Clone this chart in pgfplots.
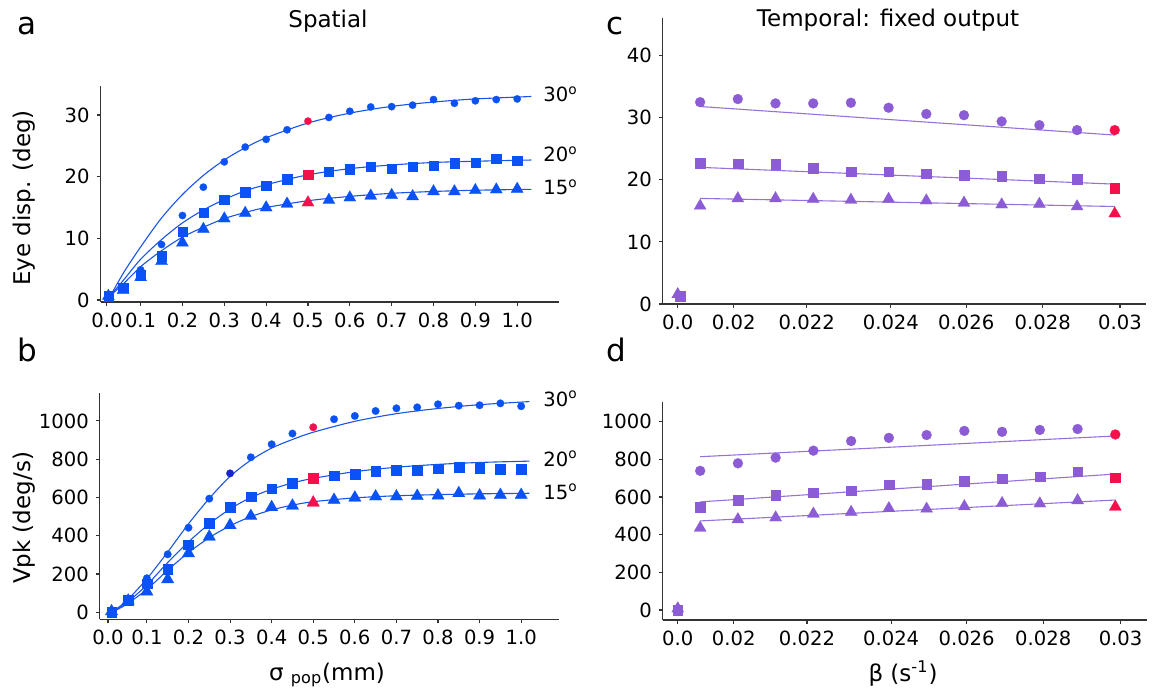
\documentclass[border=0pt]{standalone}
\usepackage{fontspec}
\setmainfont{DejaVu Sans}
\usepackage{pgfplots}
\pgfplotsset{compat=1.18}

\definecolor{mblue}{RGB}{10,82,245}
\definecolor{lblue}{RGB}{25,85,230}
\definecolor{dblue}{RGB}{25,35,210}
\definecolor{mpurp}{RGB}{140,92,214}
\definecolor{lpurp}{RGB}{150,112,222}
\definecolor{mred}{RGB}{245,15,75}

\newcommand\tk{\fontsize{9.8}{11}\selectfont}
\newcommand\lb{\fontsize{11.5}{13}\selectfont}
\newcommand\pl{\fontsize{15.5}{17}\selectfont}

\pgfplotsset{
  panel/.style={
    scale only axis, anchor=south west,
    axis lines=left,
    axis line style={-, line width=0.55pt, black!80},
    tick style={line width=0.55pt, black!80},
    major tick length=2pt, tick align=outside,
    ticklabel style={font=\tk},
    /pgf/number format/assume math mode=true,
    /pgf/number format/1000 sep={},
    scaled ticks=false,
    enlargelimits=false, clip=false,
  },
  fit/.style={no marks, line width=0.55pt, #1},
  mk/.style n args={3}{only marks, color=#3, mark=#1, mark size=#2, mark options={solid, line width=0.1pt, fill=#3, draw=#3}},
}

\begin{document}
\begin{tikzpicture}
\useasboundingbox (0,0) rectangle (582.5pt,345.5pt);

% ---------- a: spatial, eye displacement
\begin{axis}[panel, at={(50.3pt,194.5pt)}, width=229pt, height=108pt,
  xmin=0.0044, xmax=1.099, ymin=-0.32, ymax=34.7,
  xtick={0.0195,0.1,0.2,0.3,0.4,0.5,0.6,0.7,0.8,0.9,1.0},
  xticklabels={0.0,0.1,0.2,0.3,0.4,0.5,0.6,0.7,0.8,0.9,1.0},
  ytick={0,10,20,30}]
\addplot[fit=lblue, smooth] coordinates {(0.029,0.8)(0.06,4.5)(0.1,8.6)(0.15,13.3)(0.2,17.1)(0.25,20.2)(0.3,22.7)(0.35,24.7)(0.4,26.3)(0.5,28.7)(0.6,30.3)(0.7,31.4)(0.8,32.1)(0.9,32.6)(1.034,33.0)};
\addplot[fit=lblue, smooth] coordinates {(0.029,0.8)(0.06,3.3)(0.1,6.6)(0.15,9.8)(0.2,12.5)(0.25,14.6)(0.3,16.3)(0.35,17.7)(0.4,18.7)(0.5,20.3)(0.6,21.3)(0.7,21.9)(0.8,22.3)(0.9,22.5)(1.034,22.7)};
\addplot[fit=lblue, smooth] coordinates {(0.029,0.8)(0.06,2.7)(0.1,5.4)(0.15,8.0)(0.2,10.2)(0.25,11.8)(0.3,13.2)(0.35,14.2)(0.4,15.0)(0.5,16.1)(0.6,16.8)(0.7,17.3)(0.8,17.6)(0.9,17.8)(1.034,17.95)};
% 30 deg
\addplot[mk={*}{1.85pt}{mblue}] coordinates {(0.023,0.7)(0.058,2.0)(0.1,4.9)(0.15,9.0)(0.2,13.7)(0.25,18.3)(0.3,22.4)(0.35,24.8)(0.4,26.05)(0.45,27.6)(0.55,29.6)(0.6,30.6)(0.65,31.3)(0.7,31.35)(0.75,31.6)(0.8,32.5)(0.85,31.9)(0.9,32.3)(0.95,32.5)(1.0,32.6)};
\addplot[mk={*}{1.85pt}{mred}] coordinates {(0.5,29.0)};
% 20 deg
\addplot[mk={square*}{2.35pt}{mblue}] coordinates {(0.023,0.65)(0.058,2.05)(0.1,4.05)(0.15,7.1)(0.2,11.1)(0.25,14.2)(0.3,16.3)(0.35,17.5)(0.4,18.6)(0.45,19.6)(0.55,20.8)(0.6,21.2)(0.65,21.6)(0.7,21.35)(0.75,21.6)(0.8,21.8)(0.85,22.2)(0.9,22.3)(0.95,22.9)(1.0,22.6)};
\addplot[mk={square*}{2.35pt}{mred}] coordinates {(0.5,20.3)};
% 15 deg
\addplot[mk={triangle*}{3.5pt}{mblue}] coordinates {(0.023,0.65)(0.058,1.6)(0.1,3.7)(0.15,6.3)(0.2,9.3)(0.25,11.5)(0.3,13.2)(0.35,14.1)(0.4,15.0)(0.45,15.6)(0.55,16.2)(0.6,16.6)(0.65,16.9)(0.7,17.0)(0.75,16.8)(0.8,17.6)(0.85,17.6)(0.9,17.8)(0.95,17.9)(1.0,18.0)};
\addplot[mk={triangle*}{3.5pt}{mred}] coordinates {(0.5,15.8)};
\end{axis}

% ---------- b: spatial, peak velocity
\begin{axis}[panel, at={(49.95pt,35.85pt)}, width=229.35pt, height=113.15pt,
  xmin=-0.013, xmax=1.09, ymin=-36.6, ymax=1146,
  xtick={0.0065,0.1,0.2,0.3,0.4,0.5,0.6,0.7,0.8,0.9,1.0},
  xticklabels={0.0,0.1,0.2,0.3,0.4,0.5,0.6,0.7,0.8,0.9,1.0},
  ytick={0,200,400,600,800,1000}]
\addplot[fit=lblue, smooth] coordinates {(0.018,5)(0.05,58)(0.1,175)(0.15,315)(0.2,462)(0.25,595)(0.3,710)(0.35,795)(0.4,858)(0.45,903)(0.5,941)(0.6,998)(0.7,1038)(0.8,1065)(0.9,1085)(1.02,1101)};
\addplot[fit=lblue, smooth] coordinates {(0.018,3)(0.05,47)(0.1,143)(0.15,260)(0.2,368)(0.25,462)(0.3,540)(0.35,600)(0.4,643)(0.45,676)(0.5,700)(0.6,735)(0.7,758)(0.8,773)(0.9,783)(1.02,790)};
\addplot[fit=lblue, smooth] coordinates {(0.018,3)(0.05,40)(0.1,120)(0.15,220)(0.2,312)(0.25,390)(0.3,452)(0.35,500)(0.4,535)(0.45,560)(0.5,578)(0.6,598)(0.7,609)(0.8,615)(0.9,619)(1.02,622)};
% 30 deg
\addplot[mk={*}{1.9pt}{mblue}] coordinates {(0.015,5)(0.055,60)(0.1,178)(0.15,303)(0.2,442)(0.25,594)(0.35,810)(0.4,878)(0.45,934)(0.55,1009)(0.6,1026)(0.65,1052)(0.7,1066)(0.75,1071)(0.8,1087)(0.85,1080)(0.9,1082)(0.95,1092)(1.0,1077)};
\addplot[mk={*}{1.9pt}{dblue}] coordinates {(0.3,726)};
\addplot[mk={*}{1.9pt}{mred}] coordinates {(0.5,967)};
% 20 deg
\addplot[mk={square*}{2.45pt}{mblue}] coordinates {(0.015,0)(0.055,64)(0.1,150)(0.15,226)(0.2,354)(0.25,465)(0.3,549)(0.35,605)(0.4,646)(0.45,674)(0.55,714)(0.6,723)(0.65,739)(0.7,744)(0.75,744)(0.8,751)(0.85,758)(0.9,753)(0.95,749)(1.0,747)};
\addplot[mk={square*}{2.45pt}{mred}] coordinates {(0.5,702)};
% 15 deg
\addplot[mk={triangle*}{3.6pt}{mblue}] coordinates {(0.015,5)(0.055,61)(0.1,108)(0.15,172)(0.2,308)(0.25,395)(0.3,455)(0.35,503)(0.4,549)(0.45,557)(0.55,587)(0.6,599)(0.65,605)(0.7,605)(0.75,608)(0.8,610)(0.85,622)(0.9,610)(0.95,613)(1.0,613)};
\addplot[mk={triangle*}{3.6pt}{mred}] coordinates {(0.5,573)};
\end{axis}

% ---------- c: temporal, eye displacement
\begin{axis}[panel, at={(331.4pt,193.5pt)}, width=241.8pt, height=142.85pt,
  xmin=0.01801, xmax=0.03084, ymin=0, ymax=46,
  xtick={0.018406,0.01989,0.02183,0.02406,0.02606,0.02809,0.03014},
  xticklabels={0.0,0.02,0.022,0.024,0.026,0.028,0.03},
  ytick={0,10,20,30,40}]
\addplot[fit=lpurp] coordinates {(0.019,31.8)(0.030,27.2)};
\addplot[fit=lpurp] coordinates {(0.019,22.0)(0.030,19.3)};
\addplot[fit=lpurp] coordinates {(0.019,17.0)(0.030,15.7)};
\addplot[mk={*}{2.5pt}{mpurp}] coordinates {(0.019,32.5)(0.020,33.0)(0.021,32.3)(0.022,32.3)(0.023,32.4)(0.024,31.6)(0.025,30.6)(0.026,30.4)(0.027,29.4)(0.028,28.8)(0.029,28.0)};
\addplot[mk={*}{2.5pt}{mred}] coordinates {(0.030,28.0)};
\addplot[mk={square*}{2.4pt}{mpurp}] coordinates {(0.019,22.7)(0.020,22.6)(0.021,22.55)(0.022,21.85)(0.023,21.3)(0.024,21.3)(0.025,21.0)(0.026,20.8)(0.027,20.6)(0.028,20.2)(0.029,20.1)};
\addplot[mk={square*}{2.4pt}{mred}] coordinates {(0.030,18.7)};
\addplot[mk={triangle*}{3.5pt}{mpurp}] coordinates {(0.019,15.8)(0.020,17.0)(0.021,17.0)(0.022,16.9)(0.023,16.75)(0.024,16.9)(0.025,16.65)(0.026,16.3)(0.027,16.0)(0.028,16.1)(0.029,15.7)};
\addplot[mk={triangle*}{3.5pt}{mred}] coordinates {(0.030,14.55)};
% beta = 0, drawn at the broken-axis position of the 0.0 tick
\addplot[mk={triangle*}{3.5pt}{mpurp}, x filter/.expression={x+0.018406}] coordinates {(0,1.55)};
\addplot[mk={square*}{2.4pt}{mpurp}, x filter/.expression={x+0.018406}] coordinates {(0.00006,1.3)};
\end{axis}

% ---------- d: temporal, peak velocity
\begin{axis}[panel, at={(331.4pt,35.5pt)}, width=242.1pt, height=109.15pt,
  xmin=0.01801, xmax=0.03084, ymin=-53, ymax=1106,
  xtick={0.018406,0.01989,0.02183,0.02406,0.02606,0.02809,0.03014},
  xticklabels={0.0,0.02,0.022,0.024,0.026,0.028,0.03},
  ytick={0,200,400,600,800,1000}]
\addplot[fit=lpurp] coordinates {(0.019,814)(0.030,924)};
\addplot[fit=lpurp] coordinates {(0.019,574)(0.030,722)};
\addplot[fit=lpurp] coordinates {(0.019,473)(0.030,584)};
\addplot[mk={*}{2.5pt}{mpurp}] coordinates {(0.019,739)(0.020,779)(0.021,809)(0.022,846)(0.023,897)(0.024,914)(0.025,929)(0.026,951)(0.027,946)(0.028,956)(0.029,961)};
\addplot[mk={*}{2.5pt}{mred}] coordinates {(0.030,932)};
\addplot[mk={square*}{2.4pt}{mpurp}] coordinates {(0.019,548)(0.020,585)(0.021,611)(0.022,624)(0.023,633)(0.024,665)(0.025,668)(0.026,683)(0.027,698)(0.028,708)(0.029,735)};
\addplot[mk={square*}{2.4pt}{mred}] coordinates {(0.030,702)};
\addplot[mk={triangle*}{3.5pt}{mpurp}] coordinates {(0.019,436)(0.020,481)(0.021,491)(0.022,511)(0.023,520)(0.024,540)(0.025,537)(0.026,550)(0.027,567)(0.028,565)(0.029,582)};
\addplot[mk={triangle*}{3.5pt}{mred}] coordinates {(0.030,548)};
\addplot[mk={triangle*}{3.5pt}{mpurp}, x filter/.expression={x+0.018406}] coordinates {(0,8)};
\addplot[mk={square*}{2.4pt}{mpurp}, x filter/.expression={x+0.018406}] coordinates {(0,0)};
\end{axis}

% ---------- text
\node[font=\pl, anchor=base west, inner sep=0] at (8.5pt,328pt) {a};
\node[font=\pl, anchor=base west, inner sep=0] at (303pt,328pt) {c};
\node[font=\pl, anchor=base west, inner sep=0] at (8.5pt,164.5pt) {b};
\node[font=\pl, anchor=base west, inner sep=0] at (303pt,164.5pt) {d};
\node[font=\lb, anchor=base, inner sep=0] at (164pt,331.5pt) {Spatial};
\node[font=\lb, anchor=base, inner sep=0] at (444pt,332pt) {Temporal: fixed output};
\node[font=\lb, rotate=90, inner sep=0] at (12pt,246.5pt) {Eye disp. (deg)};
\node[font=\lb, rotate=90, inner sep=0] at (12pt,86.5pt) {Vpk (deg/s)};
\node[font=\lb, anchor=base, inner sep=0] at (163.5pt,5.5pt) {σ \textsubscript{pop}(mm)};
\node[font=\lb, anchor=base, inner sep=0] at (451.5pt,5pt) {β (s\textsuperscript{-1})};
\foreach \t/\y in {30/294.65, 20/264.65, 15/248, 30/142.5, 20/112.5, 15/96}
  \node[font=\tk, anchor=base west, inner sep=0] at (271.5pt,\y pt) {\t\textsuperscript{o}};
\end{tikzpicture}
\end{document}
